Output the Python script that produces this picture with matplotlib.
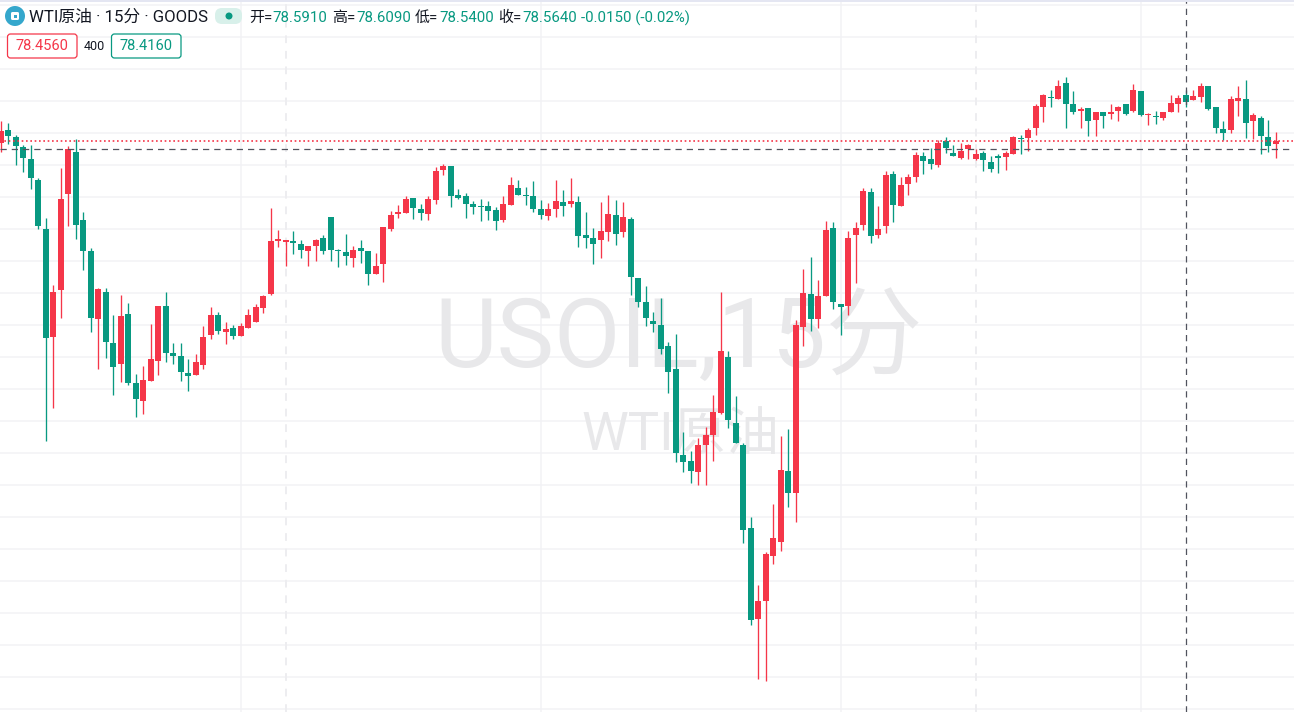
import matplotlib
matplotlib.use('Agg')
import matplotlib.pyplot as plt
from matplotlib.patches import Circle, FancyBboxPatch, Rectangle
from matplotlib.transforms import Affine2D
import numpy as np

plt.rcParams['font.family'] = ['Roboto', 'Noto Sans CJK SC', 'DejaVu Sans']

highs = [78.557, 78.547, 78.487, 78.437, 78.437, 78.272, 78.072, 77.737, 78.322, 78.432,
         78.467, 78.102, 77.922, 77.722, 77.722, 77.587, 77.687, 77.647, 77.292, 77.332,
         77.542, 77.632, 77.702, 77.447, 77.447, 77.367, 77.392, 77.532, 77.627, 77.602,
         77.552, 77.537, 77.547, 77.617, 77.642, 77.687, 78.122, 78.012, 77.962, 78.007,
         77.962, 77.932, 77.967, 77.987, 78.077, 77.917, 77.992, 77.932, 77.962, 77.907,
         77.897, 78.027, 78.107, 78.137, 78.182, 78.172, 78.142, 78.182, 78.327, 78.342,
         78.332, 78.217, 78.197, 78.157, 78.167, 78.157, 78.127, 78.182, 78.277, 78.262,
         78.227, 78.257, 78.162, 78.147, 78.262, 78.212, 78.272, 78.182, 78.102, 78.022,
         78.152, 78.187, 78.162, 78.152, 78.077, 77.772, 77.732, 77.602, 77.672, 77.452,
         77.492, 77.002, 76.907, 76.972, 77.027, 77.187, 77.702, 77.407, 77.182, 76.947,
         76.577, 76.237, 76.402, 76.642, 76.982, 77.017, 77.562, 77.817, 77.877, 77.762,
         78.057, 78.052, 77.642, 78.007, 78.052, 78.222, 78.222, 78.132, 78.307, 78.307,
         78.277, 78.292, 78.402, 78.402, 78.422, 78.462, 78.477, 78.437, 78.447, 78.442,
         78.417, 78.407, 78.382, 78.392, 78.407, 78.482, 78.487, 78.522, 78.642, 78.692,
         78.712, 78.762, 78.777, 78.707, 78.627, 78.622, 78.602, 78.602, 78.642, 78.632,
         78.642, 78.742, 78.707, 78.597, 78.607, 78.602, 78.687, 78.687, 78.712, 78.712,
         78.747, 78.732, 78.627, 78.557, 78.682, 78.732, 78.762, 78.597, 78.582, 78.562,
         78.502]
opens = [78.447, 78.512, 78.477, 78.427, 78.367, 78.262, 78.017, 77.477, 77.712, 78.192,
         78.402, 78.062, 77.907, 77.567, 77.702, 77.447, 77.342, 77.592, 77.247, 77.157,
         77.257, 77.357, 77.632, 77.397, 77.382, 77.297, 77.287, 77.337, 77.487, 77.587,
         77.502, 77.522, 77.482, 77.522, 77.552, 77.622, 77.692, 77.957, 77.952, 77.957,
         77.942, 77.907, 77.932, 77.972, 78.077, 77.912, 77.902, 77.872, 77.922, 77.907,
         77.792, 77.842, 78.017, 78.092, 78.097, 78.172, 78.117, 78.092, 78.162, 78.312,
         78.332, 78.187, 78.182, 78.142, 78.132, 78.132, 78.112, 78.062, 78.137, 78.222,
         78.187, 78.182, 78.117, 78.082, 78.117, 78.152, 78.142, 78.152, 77.987, 77.972,
         77.962, 78.002, 78.087, 78.002, 78.067, 77.772, 77.652, 77.557, 77.537, 77.432,
         77.317, 76.887, 76.857, 76.802, 76.937, 76.987, 77.097, 77.377, 77.047, 76.937,
         76.522, 76.067, 76.157, 76.382, 76.452, 76.807, 76.697, 77.527, 77.692, 77.567,
         77.682, 78.022, 77.642, 77.632, 77.987, 78.037, 78.202, 77.987, 78.032, 78.292,
         78.132, 78.242, 78.277, 78.382, 78.367, 78.337, 78.457, 78.397, 78.372, 78.417,
         78.367, 78.397, 78.352, 78.382, 78.377, 78.392, 78.472, 78.472, 78.522, 78.627,
         78.677, 78.667, 78.747, 78.642, 78.607, 78.622, 78.562, 78.602, 78.592, 78.607,
         78.642, 78.607, 78.707, 78.587, 78.582, 78.572, 78.602, 78.642, 78.687, 78.662,
         78.677, 78.732, 78.627, 78.517, 78.512, 78.657, 78.667, 78.557, 78.572, 78.477,
         78.442]
closes = [78.507, 78.482, 78.432, 78.372, 78.272, 78.032, 77.472, 77.702, 78.167, 78.417,
          78.037, 77.907, 77.572, 77.717, 77.452, 77.327, 77.582, 77.247, 77.167, 77.262,
          77.367, 77.632, 77.397, 77.382, 77.302, 77.282, 77.352, 77.477, 77.587, 77.507,
          77.517, 77.482, 77.532, 77.587, 77.627, 77.682, 77.957, 77.967, 77.962, 77.947,
          77.912, 77.932, 77.962, 77.907, 77.912, 77.907, 77.882, 77.912, 77.907, 77.792,
          77.832, 78.027, 78.087, 78.102, 78.167, 78.122, 78.097, 78.167, 78.307, 78.332,
          78.182, 78.172, 78.142, 78.127, 78.127, 78.107, 78.057, 78.142, 78.237, 78.187,
          78.182, 78.117, 78.087, 78.117, 78.157, 78.132, 78.157, 77.982, 77.972, 77.942,
          78.007, 78.092, 77.992, 78.077, 77.777, 77.652, 77.572, 77.542, 77.417, 77.302,
          76.897, 76.852, 76.807, 76.937, 76.987, 77.102, 77.407, 77.062, 76.947, 76.512,
          76.062, 76.157, 76.392, 76.472, 76.812, 76.697, 77.537, 77.697, 77.567, 77.682,
          78.012, 77.652, 77.627, 77.972, 78.022, 78.207, 77.982, 78.017, 78.287, 78.137,
          78.237, 78.277, 78.387, 78.357, 78.342, 78.447, 78.422, 78.382, 78.407, 78.437,
          78.392, 78.362, 78.317, 78.372, 78.397, 78.477, 78.467, 78.512, 78.632, 78.687,
          78.672, 78.732, 78.642, 78.602, 78.617, 78.557, 78.602, 78.582, 78.602, 78.627,
          78.592, 78.712, 78.587, 78.592, 78.577, 78.602, 78.647, 78.672, 78.652, 78.682,
          78.732, 78.617, 78.522, 78.497, 78.667, 78.672, 78.547, 78.587, 78.482, 78.432,
          78.457]
lows = [78.402, 78.442, 78.337, 78.302, 78.217, 78.017, 76.957, 77.122, 77.572, 78.032,
        77.967, 77.812, 77.502, 77.317, 77.372, 77.187, 77.252, 77.237, 77.077, 77.092,
        77.257, 77.287, 77.352, 77.342, 77.257, 77.207, 77.287, 77.317, 77.467, 77.492,
        77.442, 77.467, 77.482, 77.522, 77.552, 77.597, 77.687, 77.927, 77.832, 77.892,
        77.872, 77.832, 77.857, 77.892, 77.857, 77.827, 77.837, 77.827, 77.847, 77.737,
        77.792, 77.752, 78.007, 78.072, 78.097, 78.067, 78.062, 78.062, 78.142, 78.287,
        78.127, 78.167, 78.072, 78.092, 78.057, 78.062, 78.012, 78.052, 78.137, 78.187,
        78.137, 78.102, 78.067, 78.062, 78.077, 78.082, 78.127, 77.927, 77.922, 77.842,
        77.872, 77.957, 77.937, 77.977, 77.687, 77.627, 77.532, 77.502, 77.392, 77.197,
        76.852, 76.802, 76.747, 76.737, 76.737, 76.857, 77.092, 77.022, 76.947, 76.447,
        76.037, 75.767, 75.757, 76.342, 76.407, 76.627, 76.552, 77.432, 77.507, 77.522,
        77.682, 77.617, 77.487, 77.587, 77.747, 78.012, 77.947, 77.972, 77.997, 78.052,
        78.132, 78.187, 78.252, 78.292, 78.317, 78.327, 78.397, 78.382, 78.367, 78.367,
        78.362, 78.307, 78.302, 78.297, 78.312, 78.392, 78.392, 78.407, 78.487, 78.552,
        78.627, 78.667, 78.522, 78.592, 78.522, 78.482, 78.482, 78.522, 78.567, 78.557,
        78.587, 78.602, 78.582, 78.537, 78.542, 78.562, 78.602, 78.602, 78.627, 78.662,
        78.652, 78.612, 78.497, 78.462, 78.497, 78.582, 78.472, 78.467, 78.392, 78.402,
        78.372]

bid = 78.456
ask = 78.416
spread = 400
header_values = ['78.5910', '78.6090', '78.5400', '78.5640']
header_labels = ['开=', '高=', '低=', '收=']
change_text = '-0.0150 (-0.02%)'
grid_prices = [79.137 - 0.16 * k for k in range(23)]
grid_candles = [32, 72, 112, 152]
session_candles = [38, 130]
cross_candle = 158

RED = '#F53649'
GREEN = '#089981'
GRID = '#F2F2F5'

fig = plt.figure(figsize=(12.94, 7.12), dpi=100)
ax = fig.add_axes([0, 0, 1, 1])
ax.set_xlim(-0.09, 172.44)
ax.set_ylim(75.602, 79.162)
ax.axis('off')

# pixel coordinates for the header overlay, y going down
px = Affine2D().scale(1 / 1294, -1 / 712).translate(0, 1) + fig.transFigure

for p in grid_prices:
    ax.axhline(p, color=GRID, lw=1.1, zorder=1)
for c in grid_candles:
    ax.axvline(c, color=GRID, lw=1.1, zorder=1)
for c in session_candles:
    ax.axvline(c, color='#EDEDF0', lw=1.4, ls=(0, (4, 4)), zorder=1)

# watermark goes on the axes so the candles stay on top of it
ax.text(679, 340, 'USOIL,15分', transform=px, fontsize=69.5, color='#E8E8EA',
        ha='center', va='center', zorder=2)
ax.text(680, 436, 'WTI原油', transform=px, fontsize=38, color='#E8E8EA',
        ha='center', va='center', zorder=2)

x = np.arange(len(opens))
colors = [RED if c >= o else GREEN for o, c in zip(opens, closes)]
ax.vlines(x, lows, highs, colors=colors, lw=0.95, zorder=3)
bottoms = np.minimum(opens, closes)
heights = np.abs(np.array(closes) - np.array(opens))
ax.bar(x, heights, bottom=bottoms, width=0.8, color=colors, lw=0, zorder=4)

ax.axhline(bid, color=RED, lw=1.2, ls=(0, (1, 1.6)), zorder=5)
ax.axhline(ask, color='#50535E', lw=0.9, ls=(0, (5, 4)), zorder=6)
ax.axvline(cross_candle + 0.1, color='#50535E', lw=0.9, ls=(0, (5, 4)), zorder=6)

# header
fig.add_artist(Rectangle((0, 0), 1294, 2, transform=px, color='#E4E6F2', lw=0))
fig.add_artist(Circle((15, 16), 10, transform=px, color='#35A7CC', lw=0))
fig.add_artist(FancyBboxPatch((11, 12), 8, 8, boxstyle='round,pad=0,rounding_size=1.5',
                              transform=px, fc='white', ec='none'))
fig.add_artist(Rectangle((13.5, 14.5), 3, 3, transform=px, color='#35A7CC', lw=0))
fig.text(29, 17, 'WTI原油 · 15分 · GOODS', transform=px, fontsize=12.1, color='#131722',
         va='center')
fig.add_artist(FancyBboxPatch((215, 8), 27, 16, boxstyle='round,pad=0,rounding_size=7',
                              transform=px, fc='#D8F0EA', ec='none'))
fig.add_artist(Circle((229, 16), 3.5, transform=px, color=GREEN, lw=0))

label_x = [249, 332, 415, 498]
value_x = [272, 356, 439, 522]
for lab, val, lx, vx in zip(header_labels, header_values, label_x, value_x):
    fig.text(lx, 18, lab, transform=px, fontsize=10.8, color='#131722', va='center')
    fig.text(vx, 18, val, transform=px, fontsize=10.8, color=GREEN, va='center')
fig.text(581, 18, change_text, transform=px, fontsize=10.8, color=GREEN, va='center')

fig.add_artist(FancyBboxPatch((7.5, 34), 69.5, 24, boxstyle='round,pad=0,rounding_size=3',
                              transform=px, fc='white', ec=RED, lw=0.9))
fig.text(42, 46.5, f'{bid:.4f}', transform=px, fontsize=10.5, color=RED, ha='center', va='center')
fig.text(94, 46, str(spread), transform=px, fontsize=9, color='#131722', ha='center', va='center')
fig.add_artist(FancyBboxPatch((111.5, 34), 69.5, 24, boxstyle='round,pad=0,rounding_size=3',
                              transform=px, fc='white', ec=GREEN, lw=0.9))
fig.text(146, 46.5, f'{ask:.4f}', transform=px, fontsize=10.5, color=GREEN, ha='center', va='center')

fig.savefig('out.png', dpi=100)
